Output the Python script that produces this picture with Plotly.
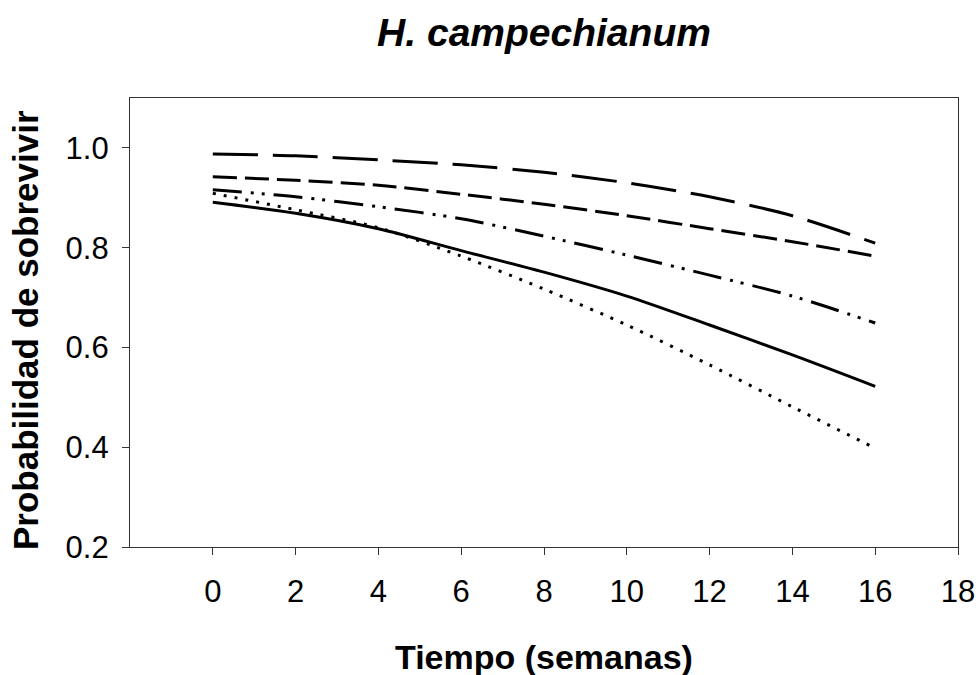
import plotly.graph_objects as go

# Weeks of observation
semanas = [0, 2, 4, 6, 8, 10, 12, 14, 16]

# Survival probability curves (one per line style)
curva_trazo_largo = [0.988, 0.984, 0.976, 0.966, 0.951, 0.930, 0.902, 0.864, 0.809]
curva_trazo_medio = [0.942, 0.935, 0.925, 0.907, 0.887, 0.864, 0.838, 0.812, 0.783]
curva_trazo_punto = [0.916, 0.902, 0.882, 0.858, 0.823, 0.785, 0.745, 0.703, 0.649]
curva_continua = [0.891, 0.869, 0.838, 0.794, 0.751, 0.703, 0.645, 0.585, 0.522]
curva_punteada = [0.909, 0.876, 0.840, 0.783, 0.717, 0.645, 0.565, 0.481, 0.398]

x_ticks = [0, 2, 4, 6, 8, 10, 12, 14, 16, 18]
y_ticks = [0.2, 0.4, 0.6, 0.8, 1.0]
y_tick_text = ["0.2", "0.4", "0.6", "0.8", "1.0"]

FONT = "Liberation Sans, Arial, sans-serif"

series = [
    ("Curva 1", curva_trazo_largo, "45px,15px"),
    ("Curva 2", curva_trazo_medio, "24px,8px"),
    ("Curva 3", curva_trazo_punto, "29px,9px,3px,8px,3px,9px"),
    ("Curva 4", curva_continua, "solid"),
    ("Curva 5", curva_punteada, "3px,8px"),
]

fig = go.Figure()
for name, ys, dash in series:
    fig.add_trace(go.Scatter(
        x=semanas, y=ys, name=name, mode="lines",
        line=dict(color="black", width=3, dash=dash, shape="spline", smoothing=0.8),
        showlegend=False,
    ))

axis_common = dict(
    showline=True, linecolor="#333333", linewidth=1.3, mirror=True,
    showgrid=False, zeroline=False, automargin=False,
    ticks="outside", ticklen=7, tickwidth=1.3, tickcolor="#333333",
    tickfont=dict(family=FONT, size=31, color="black"),
)

fig.update_xaxes(range=[-2, 18], tickvals=x_ticks, ticklabelstandoff=10, **axis_common)
fig.update_yaxes(range=[0.2, 1.1], tickvals=y_ticks, ticktext=y_tick_text,
                 ticklabelstandoff=7, **axis_common)

fig.update_layout(
    width=980, height=675,
    margin=dict(l=130, r=22, t=98, b=128, autoexpand=False),
    paper_bgcolor="white", plot_bgcolor="white",
    title=dict(
        text="<b><i>H. campechianum</i></b>",
        font=dict(family=FONT, size=39, color="black"),
        x=(130 + 958) / 2 / 980, xanchor="center",
        yref="container", y=1 - 32 / 675, yanchor="middle",
    ),
    annotations=[
        dict(text="<b>Tiempo (semanas)</b>", xref="paper", yref="paper",
             x=0.5, y=-(657 - 547) / 449, xanchor="center", yanchor="middle",
             showarrow=False, font=dict(family=FONT, size=34, color="black")),
        dict(text="<b>Probabilidad de sobrevivir</b>", xref="paper", yref="paper",
             x=(25 - 130) / 828, y=(547 - 330) / 449, xanchor="center", yanchor="middle",
             textangle=-90, showarrow=False,
             font=dict(family=FONT, size=35, color="black")),
    ],
)

fig.write_html("out.html")
